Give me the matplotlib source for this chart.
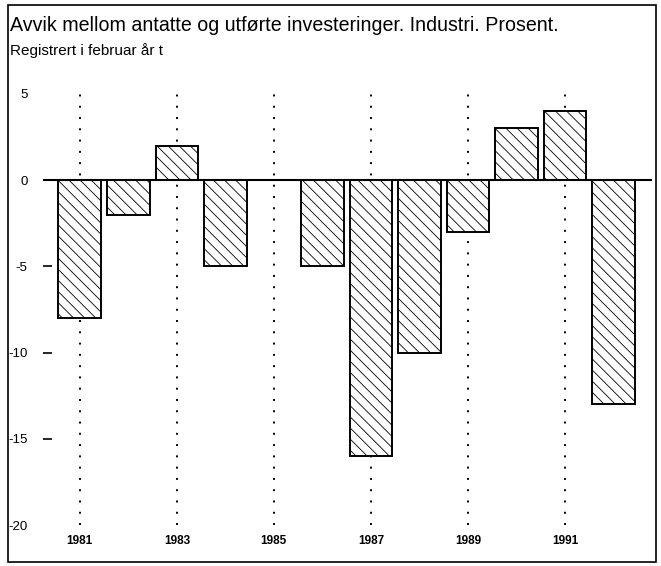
import matplotlib
matplotlib.use("Agg")
import matplotlib.pyplot as plt
from matplotlib.patches import Rectangle

plt.rcParams['font.family'] = ['Liberation Sans Narrow', 'Liberation Sans', 'DejaVu Sans']
plt.rcParams['hatch.linewidth'] = 0.6
plt.rcParams['hatch.color'] = '#777777'

# data
years = [1981, 1982, 1983, 1984, 1985, 1986, 1987, 1988, 1989, 1990, 1991, 1992]
avvik = [-8, -2, 2, -5, 0, -5, -16, -10, -3, 3, 4, -13]
label_years = [1981, 1983, 1985, 1987, 1989, 1991]
yticks = [5, 0, -5, -10, -15, -20]

fig = plt.figure(figsize=(6.61, 5.66), dpi=100)
ax = fig.add_axes([0.065, 0.0724, 0.921, 0.7616])

# dotted year lines behind the bars
for yr in label_years:
    ax.axvline(yr, color="black", lw=1.4, ls=(0, (1, 4.8)), zorder=1)

ax.bar(years, avvik, width=0.88, facecolor="white", edgecolor="black",
       linewidth=1.4, hatch="\\\\\\", zorder=2)
ax.axhline(0, color="black", lw=1.5, zorder=3)

ax.set_xlim(1980.24, 1992.79)
ax.set_ylim(-20, 5)
for s in ax.spines.values():
    s.set_visible(False)

ax.set_yticks(yticks)
ax.set_yticklabels([str(v) for v in yticks], fontsize=9.5)
ax.tick_params(axis="y", direction="in", length=6.5, width=1.2, pad=11)
for t in ax.yaxis.get_major_ticks():
    if t.get_loc() in (5, 0, -20):
        t.tick1line.set_visible(False)

ax.set_xticks(label_years)
ax.set_xticklabels([str(y) for y in label_years], fontsize=8.5, fontweight="bold")
ax.tick_params(axis="x", length=0, pad=7)

fig.text(0.015, 0.945, "Avvik mellom antatte og utførte investeringer. Industri. Prosent.",
         fontsize=14.1, va="baseline", ha="left")
fig.text(0.015, 0.903, "Registrert i februar år t", fontsize=11, va="baseline", ha="left")

fig.patches.append(Rectangle((0.012, 0.007), 0.98, 0.985, transform=fig.transFigure,
                             fill=False, edgecolor="black", lw=1.2))

fig.savefig("out.png", dpi=100)
